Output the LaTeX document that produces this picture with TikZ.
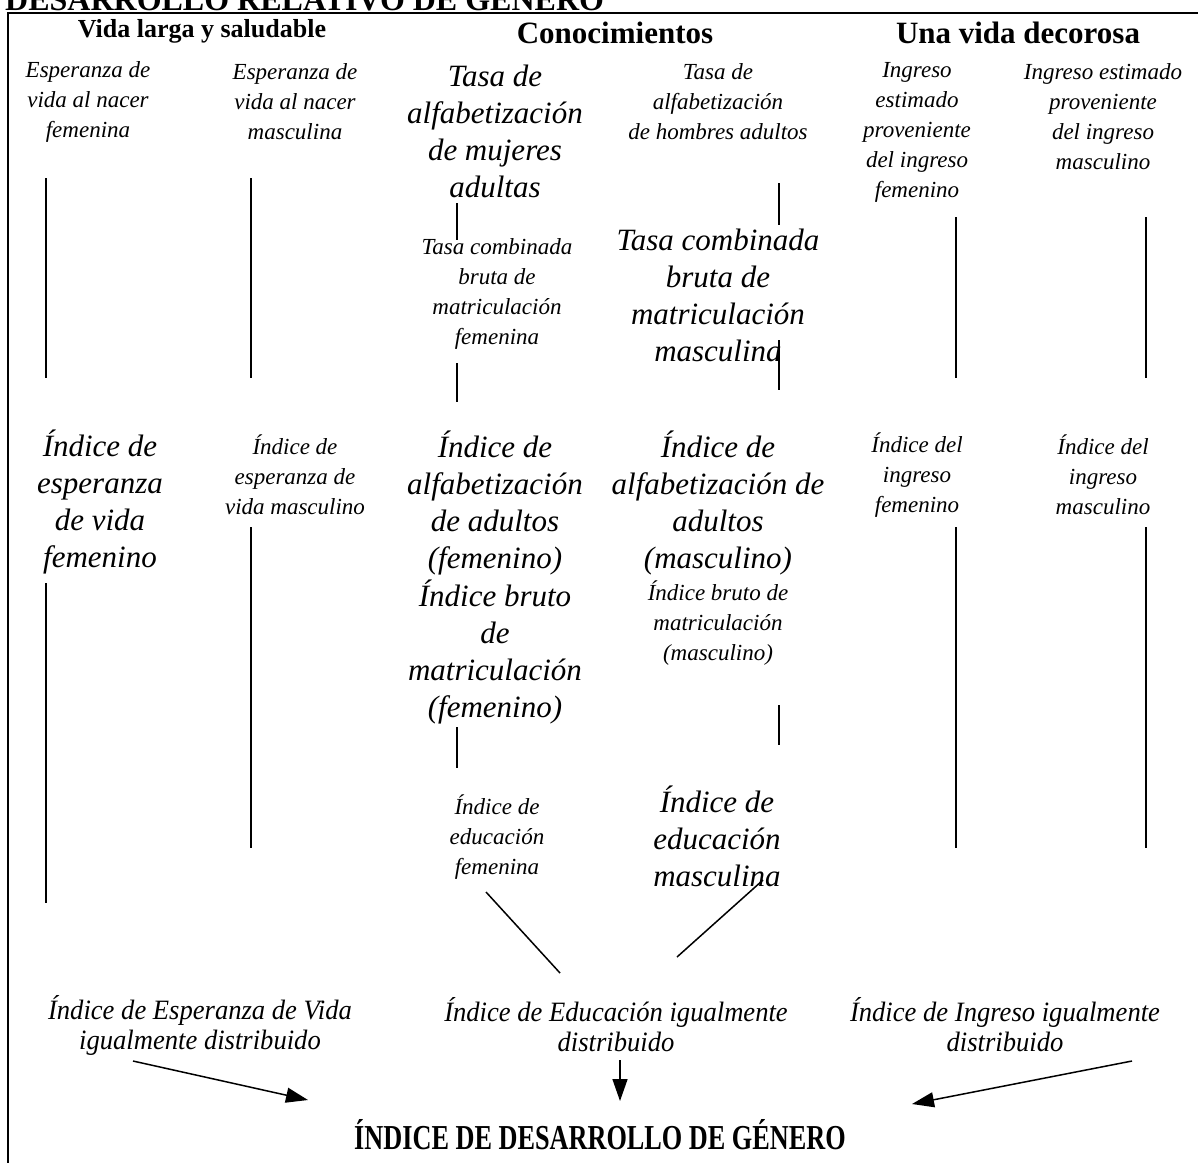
\documentclass[tikz,border=0pt]{standalone}
\usepackage{fontspec}
\setmainfont{Liberation Serif}
\usetikzlibrary{arrows.meta}
\newcommand{\narrowtxt}[2][0.95]{\scalebox{#1}[1]{#2}}
\begin{document}
\begin{tikzpicture}[x=1pt,y=-1pt,
  sm/.style={font=\fontsize{23}{30}\selectfont\itshape, align=center, inner sep=0pt},
  lg/.style={font=\fontsize{31}{37}\selectfont\itshape, align=center, inner sep=0pt},
  bt/.style={font=\fontsize{28}{30}\selectfont\itshape, align=center, inner sep=0pt},
  hd/.style={font=\fontsize{31}{34}\selectfont\bfseries, inner sep=0pt},
  vl/.style={line width=1.5pt},
  ar/.style={line width=1.5pt, -{Triangle[length=22pt,width=15pt]}}]
\useasboundingbox (0,0) rectangle (1198,1162);
\clip (0,0) rectangle (1198,1162);
% title and frame
\node[font=\fontsize{32}{34}\selectfont\bfseries, inner sep=0pt, anchor=base west] (title) at (5,10) {DESARROLLO RELATIVO DE GÉNERO};
\draw[line width=2pt] (8,1175) -- (8,13) -- (1210,13);
% headers
\node[hd, font=\fontsize{26}{30}\selectfont\bfseries] (h1) at (202,31) {Vida larga y saludable};
\node[hd] (h2) at (615,33) {Conocimientos};
\node[hd] (h3) at (1018,33) {Una vida decorosa};
% row 1
\node[sm] (a1) at (88,102) {Esperanza de\\vida al nacer\\femenina};
\node[sm] (a2) at (295,102) {Esperanza de\\vida al nacer\\masculina};
\node[lg] (a3) at (495,131) {Tasa de\\alfabetización\\de mujeres\\adultas};
\node[sm] (a4) at (718,102) {Tasa de\\alfabetización\\de hombres adultos};
\node[sm] (a5) at (917,132) {Ingreso\\estimado\\proveniente\\del ingreso\\femenino};
\node[sm] (a6) at (1103,117) {Ingreso estimado\\proveniente\\del ingreso\\masculino};
% row 2
\node[sm] (b3) at (497,294) {Tasa combinada\\bruta de\\matriculación\\femenina};
\node[lg] (b4) at (718,295) {Tasa combinada\\bruta de\\matriculación\\masculina};
% row 3
\node[lg] (c1) at (100,502) {Índice de\\esperanza\\de vida\\femenino};
\node[sm] (c2) at (295,475) {Índice de\\esperanza de\\vida masculino};
\node[lg] (c3) at (495,503) {Índice de\\alfabetización\\de adultos\\(femenino)};
\node[lg] (c3b) at (495,652) {Índice bruto\\de\\matriculación\\(femenino)};
\node[lg] (c4) at (718,503) {Índice de\\alfabetización de\\adultos\\(masculino)};
\node[sm] (c4b) at (718,623) {Índice bruto de\\matriculación\\(masculino)};
\node[sm] (c5) at (917,475) {Índice del\\ingreso\\femenino};
\node[sm] (c6) at (1103,475) {Índice del\\ingreso\\masculino};
% row 4
\node[sm] (d3) at (497,837) {Índice de\\educación\\femenina};
\node[lg] (d4) at (717,836) {Índice de\\educación\\masculina};
% bottom row
\node[bt] (e1) at (200,1025) {\narrowtxt{Índice de Esperanza de Vida}\\\narrowtxt{igualmente distribuido}};
\node[bt] (e2) at (616,1025) {\narrowtxt{Índice de Educación igualmente}\\\narrowtxt{distribuido}};
\node[bt] (e3) at (1005,1025) {\narrowtxt{Índice de Ingreso igualmente}\\\narrowtxt{distribuido}};
\node[font=\fontsize{35}{36}\selectfont\bfseries, inner sep=0pt] (gdi) at (600,1135) {\narrowtxt[0.75]{ÍNDICE DE DESARROLLO DE GÉNERO}};
% line end points
\coordinate (l1a) at (46,178);  \coordinate (l1b) at (46,378);
\coordinate (l2a) at (251,178); \coordinate (l2b) at (251,378);
\coordinate (l3a) at (457,203); \coordinate (l3b) at (457,240);
\coordinate (l4a) at (779,183); \coordinate (l4b) at (779,225);
\coordinate (l5a) at (956,217); \coordinate (l5b) at (956,378);
\coordinate (l6a) at (1146,217); \coordinate (l6b) at (1146,378);
\coordinate (m3a) at (457,363); \coordinate (m3b) at (457,402);
\coordinate (m4a) at (779,340); \coordinate (m4b) at (779,390);
\coordinate (n1a) at (46,583);  \coordinate (n1b) at (46,903);
\coordinate (n2a) at (251,527); \coordinate (n2b) at (251,848);
\coordinate (n3a) at (457,727); \coordinate (n3b) at (457,768);
\coordinate (n4a) at (779,705); \coordinate (n4b) at (779,745);
\coordinate (n5a) at (956,527); \coordinate (n5b) at (956,848);
\coordinate (n6a) at (1146,527); \coordinate (n6b) at (1146,848);
\coordinate (p3a) at (486,892); \coordinate (p3b) at (560,973);
\coordinate (p4a) at (763,880); \coordinate (p4b) at (677,957);
\coordinate (q1a) at (133,1061); \coordinate (q1b) at (308,1100);
\coordinate (q2a) at (620,1060); \coordinate (q2b) at (620,1101);
\coordinate (q3a) at (1132,1061); \coordinate (q3b) at (912,1104);
% connectors
\foreach \s in {l1,l2,l3,l4,l5,l6,m3,m4,n1,n2,n3,n4,n5,n6,p3,p4}
  \draw[vl] (\s a) -- (\s b);
\foreach \s in {q1,q2,q3}
  \draw[ar] (\s a) -- (\s b);
\end{tikzpicture}
\end{document}
